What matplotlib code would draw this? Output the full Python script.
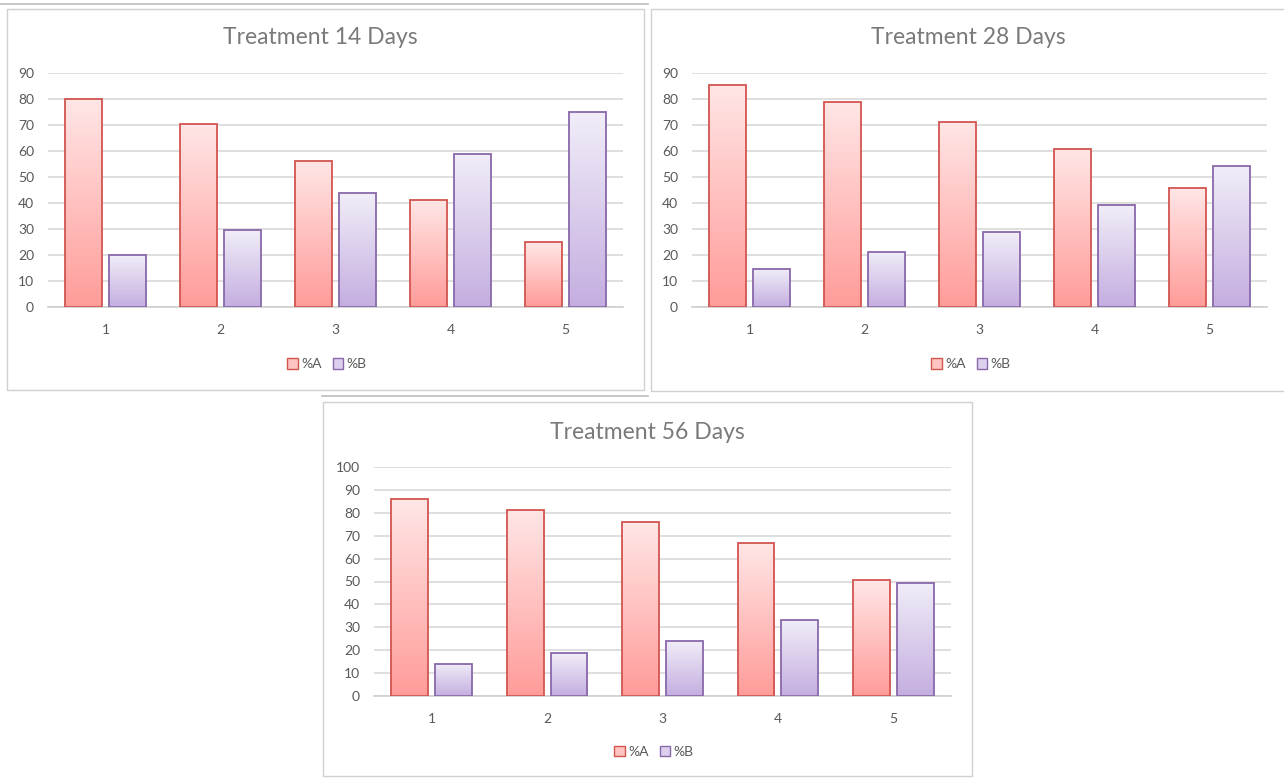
import matplotlib.pyplot as plt
import numpy as np
from matplotlib.patches import Rectangle, Patch
from matplotlib.lines import Line2D
from matplotlib.colors import to_rgb

plt.rcParams['font.family'] = ['Lato', 'DejaVu Sans']

W, H = 1284, 778

# Data
groups = ['1', '2', '3', '4', '5']
titles = ['Treatment 14 Days', 'Treatment 28 Days', 'Treatment 56 Days']
pct_a_14 = [80, 70.5, 56.3, 41, 25]
pct_b_14 = [20, 29.5, 43.7, 59, 75]
pct_a_28 = [85.5, 78.8, 71.2, 60.8, 45.7]
pct_b_28 = [14.5, 21.2, 28.8, 39.2, 54.3]
pct_a_56 = [86, 81.4, 75.8, 66.8, 50.6]
pct_b_56 = [14, 18.6, 24.2, 33.2, 49.4]
ymax = [90, 90, 100]

# Gradient fills (top colour, bottom colour) and outlines
red_top, red_bot, red_edge = '#FFE6E6', '#FF9C99', '#D2544F'
pur_top, pur_bot, pur_edge = '#F1EDF8', '#C4AEE0', '#8868AA'
text_grey = '#595959'
grid_grey = '#D9D9D9'


def px_rect(x0, y0, x1, y1):
    return [x0 / W, 1 - y1 / H, (x1 - x0) / W, (y1 - y0) / H]


def gradient_bars(ax, xs, vals, width, top, bot, edge):
    c_top, c_bot = np.array(to_rgb(top)), np.array(to_rgb(bot))
    t = np.linspace(0, 1, 256)[:, None]
    img = (c_bot * (1 - t) + c_top * t)[:, None, :]
    bars = ax.bar(xs, vals, width, facecolor='none', edgecolor=edge,
                  linewidth=1.3, zorder=3)
    for b in bars:
        x, w, h = b.get_x(), b.get_width(), b.get_height()
        im = ax.imshow(img, extent=[x, x + w, 0, h], origin='lower',
                       aspect='auto', zorder=2, interpolation='bilinear')
        im.set_clip_path(b)
    return bars


fig = plt.figure(figsize=(W / 100, H / 100), dpi=100)

# Panel frames and separator lines
for x0, y0, x1, y1 in [(7, 9, 644, 390), (651, 9, 1290, 391), (323, 402, 972, 776)]:
    fig.add_artist(Rectangle((x0 / W, 1 - y1 / H), (x1 - x0) / W, (y1 - y0) / H,
                             transform=fig.transFigure, fill=False,
                             edgecolor='#D0D0D0', linewidth=1))
fig.add_artist(Line2D([0, 648 / W], [1 - 4 / H, 1 - 4 / H], transform=fig.transFigure,
                      color='#BDBDBD', linewidth=1.2))
fig.add_artist(Line2D([322 / W, 648 / W], [1 - 396 / H, 1 - 396 / H],
                      transform=fig.transFigure, color='#BDBDBD', linewidth=1.2))

axes_px = [(48, 73, 623, 307), (692, 73, 1267, 307), (374, 467, 951, 696)]
title_pos = [(320, 38), (968, 38), (647, 432)]
series = [(pct_a_14, pct_b_14), (pct_a_28, pct_b_28), (pct_a_56, pct_b_56)]

x = np.arange(len(groups))
bw, off = 0.32, 0.19

for i, (a_vals, b_vals) in enumerate(series):
    ax = fig.add_axes(px_rect(*axes_px[i]))
    gradient_bars(ax, x - off, a_vals, bw, red_top, red_bot, red_edge)
    gradient_bars(ax, x + off, b_vals, bw, pur_top, pur_bot, pur_edge)
    ax.set_xlim(-0.5, len(groups) - 0.5)
    ax.set_ylim(0, ymax[i])
    ax.set_yticks(np.arange(0, ymax[i] + 1, 10))
    ax.set_xticks(x)
    ax.set_xticklabels(groups)
    ax.yaxis.grid(True, color=grid_grey, linewidth=1.2, zorder=0)
    ax.set_axisbelow(True)
    for s in ['top', 'right', 'left']:
        ax.spines[s].set_visible(False)
    ax.spines['bottom'].set_color('#CFCFCF')
    ax.spines['bottom'].set_linewidth(1.2)
    ax.tick_params(length=0, labelsize=10, colors=text_grey, pad=10)
    ax.tick_params(axis='x', pad=12)
    ax.set_facecolor('none')
    handles = [Patch(facecolor='#FFC4C2', edgecolor=red_edge, linewidth=1),
               Patch(facecolor='#DCD0EE', edgecolor=pur_edge, linewidth=1)]
    leg = ax.legend(handles, ['%A', '%B'], loc='center', ncol=2, frameon=False,
                    bbox_to_anchor=(0.485, -0.245), handlelength=0.75,
                    handleheight=0.75, handletextpad=0.25, columnspacing=0.8,
                    fontsize=10)
    for t in leg.get_texts():
        t.set_color(text_grey)
    tx, ty = title_pos[i]
    fig.text(tx / W, 1 - ty / H, titles[i], ha='center', va='center',
             fontsize=16.5, color='#7A7A7A')

fig.savefig('out.png', dpi=100, facecolor='white')
